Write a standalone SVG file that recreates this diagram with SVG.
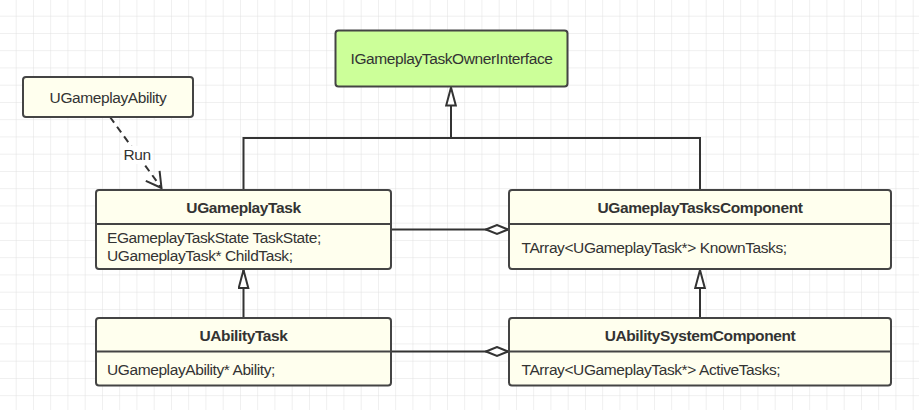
<svg xmlns="http://www.w3.org/2000/svg" width="919" height="410" viewBox="0 0 919 410">
<defs>
<pattern id="grid" x="15.7" y="15.7" width="17.25" height="17.25" patternUnits="userSpaceOnUse">
<path d="M0 0V17.25M0 0H17.25" fill="none" stroke="#e0e0e0" stroke-width="1"/>
</pattern>
<marker id="tri" viewBox="0 0 20 12" refX="19" refY="6" markerWidth="20" markerHeight="12" markerUnits="userSpaceOnUse" orient="auto">
<path d="M1 1.2L19 6L1 10.8Z" fill="#ffffff" stroke="#333333" stroke-width="2"/>
</marker>
<marker id="dia" viewBox="0 0 24 12" refX="23" refY="6" markerWidth="24" markerHeight="12" markerUnits="userSpaceOnUse" orient="auto">
<path d="M1 6L12 1.5L23 6L12 10.5Z" fill="#ffffff" stroke="#333333" stroke-width="2"/>
</marker>
<marker id="open" viewBox="0 0 20 20" refX="18" refY="10" markerWidth="20" markerHeight="20" markerUnits="userSpaceOnUse" orient="auto">
<path d="M3 1.5L18 10L3 18.5" fill="none" stroke="#333333" stroke-width="2"/>
</marker>
</defs>
<style>
.cls{fill:#ffffee;stroke:#444444;stroke-width:2}
.grn{fill:#ccff99;stroke:#444444;stroke-width:2}
.div{stroke:#444444;stroke-width:2}
text{font-family:"Liberation Sans",Arial,sans-serif;font-size:15.5px;letter-spacing:-0.4px;fill:#333333}
.t{font-weight:bold;text-anchor:middle}
.c{text-anchor:middle}
.ln{fill:none;stroke:#333333;stroke-width:2}
</style>
<rect width="919" height="410" fill="#ffffff"/>
<rect width="919" height="410" fill="url(#grid)"/>

<g id="connectors">
<path class="ln" d="M243.5 190V138H700V190"/>
<path class="ln" d="M451 138V87.5" marker-end="url(#tri)"/>
<path class="ln" d="M243.5 318V270" marker-end="url(#tri)"/>
<path class="ln" d="M700 318V270" marker-end="url(#tri)"/>
<path class="ln" d="M391 229.5H508" marker-end="url(#dia)"/>
<path class="ln" d="M391 351.5H508" marker-end="url(#dia)"/>
<path class="ln" d="M110 117L161.5 188" stroke-dasharray="7 5" marker-end="url(#open)"/>
<rect x="122" y="146" width="30" height="18" fill="#ffffff"/>
<text class="c" x="137" y="159.5">Run</text>
</g>

<g id="IGameplayTaskOwnerInterface">
<rect class="grn" x="335.5" y="30.5" width="232" height="56" rx="3"/>
<text class="c" x="451.5" y="64">IGameplayTaskOwnerInterface</text>
</g>

<g id="UGameplayAbility">
<rect class="cls" x="23" y="77" width="170" height="40" rx="3"/>
<text class="c" x="108" y="102.5">UGameplayAbility</text>
</g>

<g id="UGameplayTask">
<rect class="cls" x="96" y="190" width="295" height="79" rx="3"/>
<line class="div" x1="96" y1="224" x2="391" y2="224"/>
<text class="t" x="243.5" y="213">UGameplayTask</text>
<text x="107" y="243">EGameplayTaskState TaskState;</text>
<text x="107" y="261">UGameplayTask* ChildTask;</text>
</g>

<g id="UGameplayTasksComponent">
<rect class="cls" x="509" y="190" width="382" height="79" rx="3"/>
<line class="div" x1="509" y1="224" x2="891" y2="224"/>
<text class="t" x="700" y="213">UGameplayTasksComponent</text>
<text x="521.5" y="252.5">TArray&lt;UGameplayTask*&gt; KnownTasks;</text>
</g>

<g id="UAbilityTask">
<rect class="cls" x="96" y="318" width="295" height="67.5" rx="3"/>
<line class="div" x1="96" y1="351.5" x2="391" y2="351.5"/>
<text class="t" x="243.5" y="340.5">UAbilityTask</text>
<text x="107" y="375">UGameplayAbility* Ability;</text>
</g>

<g id="UAbilitySystemComponent">
<rect class="cls" x="509" y="318" width="382" height="67.5" rx="3"/>
<line class="div" x1="509" y1="351.5" x2="891" y2="351.5"/>
<text class="t" x="700" y="340.5">UAbilitySystemComponent</text>
<text x="521.5" y="375">TArray&lt;UGameplayTask*&gt; ActiveTasks;</text>
</g>
</svg>
